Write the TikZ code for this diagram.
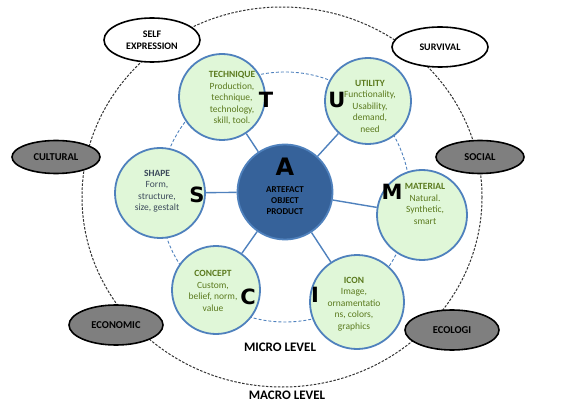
\documentclass[tikz,border=0pt]{standalone}
\usepackage{fontspec}
\setmainfont{Carlito}
\newfontfamily\heavyfont{DejaVu Sans}
\usetikzlibrary{shapes.geometric}
\definecolor{cfill}{HTML}{E0F7D8}
\definecolor{cborder}{HTML}{4F81BD}
\definecolor{afill}{HTML}{36629A}
\definecolor{olive}{HTML}{5B7A1E}
\definecolor{shapetxt}{HTML}{3D4B5C}
\definecolor{ovgray}{HTML}{7F7F7F}
\begin{document}
\begin{tikzpicture}[x=1pt,y=-1pt,
  elem/.style={circle,draw=cborder,line width=1.8pt,fill=cfill,inner sep=0pt},
  core/.style={circle,draw=cborder,line width=1.8pt,fill=afill,inner sep=0pt,minimum size=95pt},
  spoke/.style={draw=cborder,line width=1.4pt},
  body/.style={align=center,font=\fontsize{9.5}{11.5}\selectfont,text=olive,inner sep=0pt},
  bigletter/.style={font=\heavyfont\fontsize{21}{21}\selectfont\bfseries,inner sep=0pt},
  whiteov/.style={ellipse,draw=black,line width=1.6pt,fill=white,inner sep=0pt,align=center,font=\fontsize{10}{12}\selectfont\bfseries},
  grayov/.style={ellipse,draw=black,line width=1.6pt,fill=ovgray,inner sep=0pt,font=\fontsize{10.5}{12}\selectfont\bfseries},
  level/.style={font=\fontsize{13}{13}\selectfont\bfseries,inner sep=0pt}
]
\useasboundingbox (0,0) rectangle (564,403);
% macro dashed ellipse
\draw[black!80,line width=1pt,dash pattern=on 2.5pt off 1.5pt] (282,197) ellipse [x radius=200, y radius=190];
% micro dashed circle
\draw[cborder,line width=0.9pt,dash pattern=on 3pt off 2pt] (285,197) circle [radius=125];

% outer ovals
\node[whiteov,minimum width=96pt,minimum height=44pt] (self) at (152,40) {SELF\\EXPRESSION};
\node[whiteov,minimum width=96pt,minimum height=40pt] (surv) at (440,47) {SURVIVAL};
\node[grayov,minimum width=88pt,minimum height=33pt] (cult) at (56,157) {CULTURAL};
\node[grayov,minimum width=88pt,minimum height=33pt] (soc) at (480,157) {SOCIAL};
\node[grayov,minimum width=94pt,minimum height=40pt] (econ) at (116,325) {ECONOMIC};
\node[grayov,minimum width=94pt,minimum height=40pt] (eco) at (452,330) {ECOLOGI};

% element circles
\node[elem,minimum size=86pt] (T) at (222,97) {};
\node[elem,minimum size=86pt] (U) at (368,101) {};
\node[elem,minimum size=90pt] (S) at (160,193) {};
\node[elem,minimum size=90pt] (M) at (422,215) {};
\node[elem,minimum size=88pt] (C) at (216,290) {};
\node[elem,minimum size=94pt] (I) at (357,302) {};
\node[core] (A) at (285,192) {};

% spokes
\foreach \n in {T,U,S,M,C,I} \draw[spoke] (A) -- (\n);

% texts
\node[body] (tT) at (232,98) {\textbf{TECHNIQUE}\\Production,\\technique,\\technology,\\skill, tool.};
\node[body] (tU) at (370,106) {\textbf{UTILITY}\\Functionality,\\Usability,\\demand,\\need};
\node[body,text=shapetxt] (tS) at (157,191) {\textbf{SHAPE}\\Form,\\structure,\\size, gestalt};
\node[body] (tM) at (425,204) {\textbf{MATERIAL}\\Natural.\\Synthetic,\\smart};
\node[body] (tC) at (213,291) {\textbf{CONCEPT}\\Custom,\\belief, norm,\\value};
\node[body] (tI) at (354,304) {\textbf{ICON}\\Image,\\ornamentatio\\ns, colors,\\graphics};
\node[body,text=black,font=\fontsize{9}{11}\selectfont\bfseries] (tA) at (285,201) {ARTEFACT\\OBJECT\\PRODUCT};

% big letters
\node[bigletter] (lT) at (266,100) {T};
\node[bigletter] (lU) at (337,100) {U};
\node[bigletter] (lS) at (197,195) {S};
\node[bigletter,font=\heavyfont\fontsize{24}{24}\selectfont\bfseries] (lA) at (285,167) {A};
\node[bigletter] (lM) at (392,192) {M};
\node[bigletter] (lC) at (248,297) {C};
\node[bigletter] (lI) at (315,295) {I};

% levels
\node[level] (micro) at (280,347) {MICRO LEVEL};
\node[level] (macro) at (287,395) {MACRO LEVEL};
\end{tikzpicture}
\end{document}
